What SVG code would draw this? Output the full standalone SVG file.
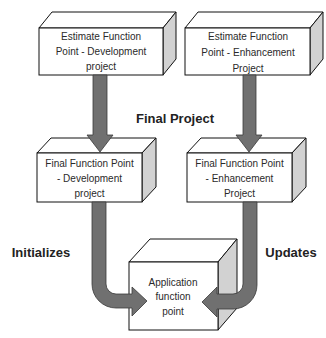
<svg xmlns="http://www.w3.org/2000/svg" width="326" height="338" viewBox="0 0 326 338">
<style>
.front{fill:#fff;stroke:#111;stroke-width:1}
.top{fill:#fff;stroke:#111;stroke-width:1}
.side{fill:#d2d2d2;stroke:#111;stroke-width:1}
.t{font-family:"Liberation Sans",Arial,sans-serif;font-size:10px;fill:#2a2a2a;text-anchor:middle}
.lbl{font-family:"Liberation Sans",Arial,sans-serif;font-size:13px;font-weight:bold;fill:#222;text-anchor:middle}
.arr{fill:#707070;stroke:#3a3a3a;stroke-width:0.8}
</style>
<rect width="326" height="338" fill="#fff"/>
<g id="box1">
<polygon class="top" points="39,28 52,12 176,12 163,28"/>
<polygon class="side" points="163,28 176,12 176,59 163,75"/>
<rect class="front" x="39" y="28" width="124" height="47"/>
<text class="t" x="101" y="40">Estimate Function</text>
<text class="t" x="101" y="55">Point - Development</text>
<text class="t" x="101" y="70">project</text>
</g>
<g id="box2">
<polygon class="top" points="185,28 198,12 323,12 310,28"/>
<polygon class="side" points="310,28 323,12 323,59 310,75"/>
<rect class="front" x="185" y="28" width="125" height="47"/>
<text class="t" x="248" y="40">Estimate Function</text>
<text class="t" x="248" y="56">Point - Enhancement</text>
<text class="t" x="248" y="72">Project</text>
</g>
<g id="box3">
<polygon class="top" points="37,153 51,138 156,138 142,153"/>
<polygon class="side" points="142,153 156,138 156,187 142,202"/>
<rect class="front" x="37" y="153" width="105" height="49"/>
<text class="t" x="89.5" y="167">Final Function Point</text>
<text class="t" x="89.5" y="182">-  Development</text>
<text class="t" x="89.5" y="197">project</text>
</g>
<g id="box4">
<polygon class="top" points="187,153 201,138 306,138 292,153"/>
<polygon class="side" points="292,153 306,138 306,187 292,202"/>
<rect class="front" x="187" y="153" width="105" height="49"/>
<text class="t" x="239.5" y="167">Final Function Point</text>
<text class="t" x="239.5" y="182">- Enhancement</text>
<text class="t" x="239.5" y="197">Project</text>
</g>
<g id="box5">
<polygon class="top" points="129,262 150,239 237,239 218,262"/>
<polygon class="side" points="218,262 237,239 237,308 218,330"/>
<rect class="front" x="129" y="262" width="89" height="68"/>
<text class="t" x="173" y="286">Application</text>
<text class="t" x="173" y="300">function</text>
<text class="t" x="173" y="315">point</text>
</g>
<g id="connectors">
<path class="arr" d="M93,75 H107 V135 H113 L100,152 L87,135 H93 Z"/>
<path class="arr" d="M243,75 H256 V135 H262 L249,152 L236,135 H243 Z"/>
<path class="arr" d="M92,202 H106 V284 A10,10 0 0 0 116,294 H132 V287 L147,301 L132,316 V308 H116 A24,24 0 0 1 92,284 Z"/>
<path class="arr" d="M257,202 H243 V284 A10,10 0 0 1 233,294 H217 V287 L202,302 L217,317 V309 H233 A24,24 0 0 0 257,285 Z"/>
</g>
<g id="labels">
<text class="lbl" x="175" y="123">Final Project</text>
<text class="lbl" x="41" y="257">Initializes</text>
<text class="lbl" x="291" y="257">Updates</text>
</g>
</svg>
